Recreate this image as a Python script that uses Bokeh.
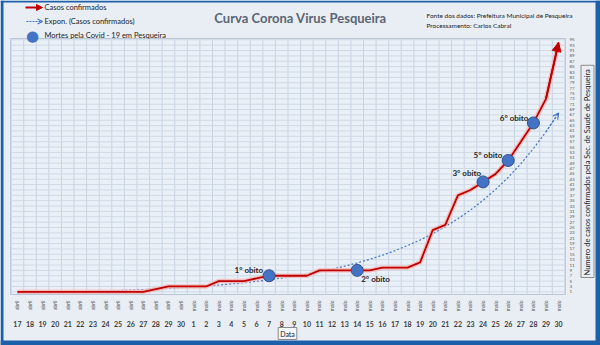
import numpy as np
from bokeh.plotting import figure
from bokeh.models import (Range1d, Label, Arrow, NormalHead, OpenHead, BoxAnnotation,
                          ColumnDataSource)
from bokeh.core.properties import value
from bokeh.embed import file_html
from bokeh.resources import INLINE

# ---------------- data ----------------
meses = ["abril"] * 14 + ["maio"] * 30
dias = [17, 18, 19, 20, 21, 22, 23, 24, 25, 26, 27, 28, 29, 30,
        1, 2, 3, 4, 5, 6, 7, 8, 9, 10, 11, 12, 13, 14, 15, 16, 17, 18, 19, 20,
        21, 22, 23, 24, 25, 26, 27, 28, 29, 30]
casos = [1, 1, 1, 1, 1, 1, 1, 1, 1, 1, 1, 2, 3, 3,
         3, 3, 5, 5, 5, 6, 7, 7, 7, 7, 9, 9, 9, 9, 9, 10, 10, 10, 12, 24,
         26, 37, 39, 42, 45, 50, 57, 64, 73, 94]
obito_idx = [20, 27, 37, 39, 41]
obito_txt = ["1° obito", "2° obito", "3° obito", "5° obito", "6° obito"]
y_ticks = list(range(1, 96, 2))

# ---------------- styles / layout ----------------
obito_dx = [-6, 4, -2, -6, -5]
obito_dy = [-6, 9, -9, -5, -5]
obito_align = ["right", "left", "right", "right", "right"]

FONT = "Lato"
BG = "#E9EEF5"
BLUE = "#1E5FA9"
W, H = 600, 345
# plot area in page pixels
PL, PR, PT, PB = 10, 565, 38, 294
X0, X1 = -0.55, 43.55          # category range of the plot area
Y0, Y1 = 0, 95.5               # value range of the plot area

kx = (PR - PL) / (X1 - X0)
ky = (PB - PT) / (Y1 - Y0)
x_range = Range1d(X0 - PL / kx, X1 + (W - PR) / kx)
y_range = Range1d(Y0 - (H - PB) / ky, Y1 + PT / ky)


def sy(y):                      # page y (from top) -> screen y (from bottom)
    return H - y


idx = list(range(len(casos)))

# exponential trendline (least-squares fit of the data, as Excel's "Expon.")
b, ln_a = np.polyfit(idx, np.log(casos), 1)
trend = list(np.exp(ln_a + b * np.array(idx)))

p = figure(width=W, height=H, output_backend="svg", toolbar_location=None,
           x_range=x_range, y_range=y_range,
           x_axis_location=None, y_axis_location=None,
           min_border=0, background_fill_color=BG, border_fill_color=BG,
           outline_line_color=None)
p.xgrid.visible = False
p.ygrid.visible = False

# plot area + grid
p.quad(left=[X0], right=[X1], bottom=[Y0], top=[Y1], fill_color="#EAF0F7",
       line_color="#B9C6D4", line_width=1)
vx = [i - 0.5 for i in range(len(idx) + 1)]
p.segment(x0=vx, x1=vx, y0=[Y0] * len(vx), y1=[Y1] * len(vx),
          line_color="#C6D3E1", line_width=1)
p.segment(x0=[X0] * len(y_ticks), x1=[X1] * len(y_ticks), y0=y_ticks, y1=y_ticks,
          line_color="#CFD9E5", line_width=1)

# category labels (month rotated + day)
p.text(x=idx, y=[Y0] * len(idx), text=meses, angle=np.pi / 2, y_offset=6,
       text_align="right", text_baseline="middle", text_font=value(FONT),
       text_font_size="5px", text_color="#555555")
p.text(x=idx, y=[Y0] * len(idx), text=[str(d) for d in dias], y_offset=29,
       text_align="center", text_baseline="middle", text_font=value(FONT),
       text_font_size="7px", text_font_style="bold", text_color="#404040")
# value labels on the right
p.text(x=[X1] * len(y_ticks), y=y_ticks, text=[str(t) for t in y_ticks], x_offset=4,
       text_align="left", text_baseline="middle", text_font=value(FONT),
       text_font_size="4.5px", text_color="#555555")

# trendline
p.line(idx, trend, line_color="#4472C4", line_width=1.2, line_dash="2 2")
p.add_layout(Arrow(end=OpenHead(size=6, line_color="#4472C4", line_width=1.2),
                   x_start=idx[-2], y_start=trend[-2], x_end=idx[-1], y_end=trend[-1],
                   line_color="#4472C4", line_width=1.2, line_dash="2 2"))

# confirmed cases
p.line(idx, casos, line_color="#F6B8B8", line_width=4.5, line_alpha=0.85)
p.line(idx, casos, line_color="#C00000", line_width=1.8)
p.add_layout(Arrow(end=NormalHead(size=9, fill_color="#C00000", line_color="#C00000"),
                   x_start=idx[-2], y_start=casos[-2], x_end=idx[-1], y_end=casos[-1],
                   line_color="#C00000", line_width=1.8))

# deaths
src = ColumnDataSource(dict(x=obito_idx, y=[casos[i] for i in obito_idx], t=obito_txt,
                            dx=obito_dx, dy=obito_dy, al=obito_align))
p.scatter("x", "y", source=src, size=12, fill_color="#4472C4", line_color="#2F528F",
          line_width=1)
p.text("x", "y", text="t", source=src, x_offset="dx", y_offset="dy", text_align="al",
       text_baseline="middle", text_font=value(FONT), text_font_size="8px",
       text_font_style="bold", text_color="#262626")

# title & notes
p.add_layout(Label(x=300, y=sy(17), x_units="screen", y_units="screen",
                   text="Curva Corona Virus Pesqueira", text_align="center",
                   text_baseline="middle", text_font=FONT, text_font_size="13px",
                   text_font_style="bold", text_color="#5B6573"))
p.add_layout(Label(x=426, y=sy(15), x_units="screen", y_units="screen",
                   text="Fonte dos dados: Prefeitura Municipal de Pesqueira",
                   text_baseline="middle", text_font=FONT, text_font_size="6.5px",
                   text_color="#222222"))
p.add_layout(Label(x=426, y=sy(25), x_units="screen", y_units="screen",
                   text="Processamento:  Carlos Cabral",
                   text_baseline="middle", text_font=FONT, text_font_size="6.5px",
                   text_color="#222222"))

# legend
p.add_layout(Arrow(end=NormalHead(size=6, fill_color="#C00000", line_color="#C00000"),
                   x_start=25, y_start=sy(7), x_end=42, y_end=sy(7),
                   start_units="screen", end_units="screen",
                   line_color="#C00000", line_width=2))
p.add_layout(Arrow(end=OpenHead(size=5, line_color="#4472C4", line_width=1.2),
                   x_start=26, y_start=sy(21), x_end=42, y_end=sy(21),
                   start_units="screen", end_units="screen",
                   line_color="#4472C4", line_width=1.2, line_dash="2 1"))
p.add_layout(Label(x=32, y=sy(35), x_units="screen", y_units="screen", text="●",
                   text_align="center", text_baseline="middle", text_font="DejaVu Sans",
                   text_font_size="15px", text_color="#4472C4"))
for yy, tt in [(7, "Casos confirmados"), (21, "Expon. (Casos confirmados)"),
               (35, "Mortes pela Covid - 19 em Pesqueira")]:
    p.add_layout(Label(x=44, y=sy(yy), x_units="screen", y_units="screen", text=tt,
                       text_baseline="middle", text_font=FONT, text_font_size="7.5px",
                       text_color="#222222"))

# axis titles
p.add_layout(Label(x=587, y=sy(277), x_units="screen", y_units="screen",
                   text="Numero de casos confirmados  pela Sec. de Saude de Pesqueira",
                   angle=np.pi / 2, text_baseline="middle", text_font=FONT,
                   text_font_size="7.5px", text_color="#222222",
                   border_line_color="#8A8A8A", background_fill_color=BG, padding=2))
p.add_layout(Label(x=287, y=sy(333), x_units="screen", y_units="screen", text="Data",
                   text_align="center", text_baseline="middle", text_font=FONT,
                   text_font_size="7px", text_color="#222222",
                   border_line_color="#8A8A8A", background_fill_color="#F4F6F9", padding=2))

# blue frame around the whole picture
for l, r, t, bt in [(0, 3, 0, H), (0, W, 0, 2), (595, W, 0, H), (0, W, 340, H)]:
    p.add_layout(BoxAnnotation(left=l, right=r, top=sy(t), bottom=sy(bt),
                               left_units="screen", right_units="screen",
                               top_units="screen", bottom_units="screen",
                               fill_color=BLUE, fill_alpha=1, line_color=None))

open("out.html", "w").write(file_html(p, INLINE))
